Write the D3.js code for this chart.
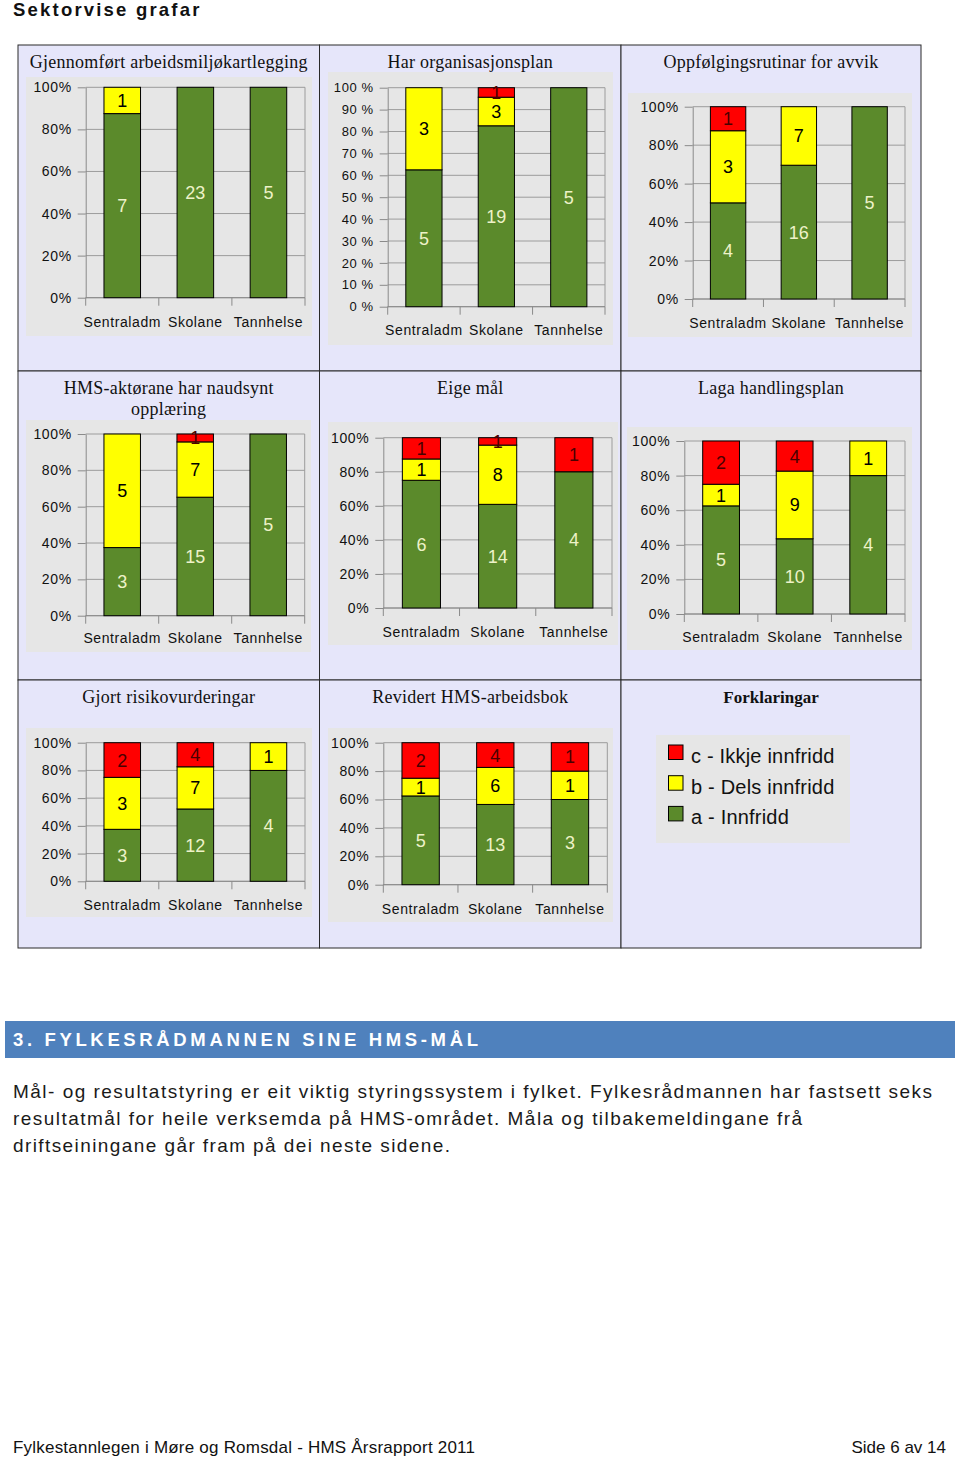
<!DOCTYPE html>
<html><head><meta charset="utf-8">
<script src="https://cdn.jsdelivr.net/npm/d3@7"></script>
<style>body{margin:0;background:#fff}svg{display:block}</style>
</head><body>
<svg id="c" width="960" height="1457"></svg>
<script>
// ---------- data ----------
const categories = ["Sentraladm", "Skolane", "Tannhelse"];
const chartTitles = [
  ["Gjennomført arbeidsmiljøkartlegging"],
  ["Har organisasjonsplan"],
  ["Oppfølgingsrutinar for avvik"],
  ["HMS-aktørane har naudsynt", "opplæring"],
  ["Eige mål"],
  ["Laga handlingsplan"],
  ["Gjort risikovurderingar"],
  ["Revidert HMS-arbeidsbok"]
];
// a - Innfridd
const innfridd      = [[7,23,5],[5,19,5],[4,16,5],[3,15,5],[6,14,4],[5,10,4],[3,12,4],[5,13,3]];
// b - Dels innfridd
const delsInnfridd  = [[1,0,0],[3,3,0],[3,7,0],[5,7,0],[1,8,0],[1,9,1],[3,7,1],[1,6,1]];
// c - Ikkje innfridd
const ikkjeInnfridd = [[0,0,0],[0,1,0],[1,0,0],[0,1,0],[1,1,1],[2,4,0],[2,4,0],[2,4,1]];
const ticks20 = [0, 20, 40, 60, 80, 100];
const ticks10 = [0, 10, 20, 30, 40, 50, 60, 70, 80, 90, 100];
const tickSets = [ticks20, ticks10, ticks20, ticks20, ticks20, ticks20, ticks20, ticks20];
const tickSuffix = ["%", " %", "%", "%", "%", "%", "%", "%"];
const legendLabels = ["c - Ikkje innfridd", "b - Dels innfridd", "a - Innfridd"];
const legendTitle = "Forklaringar";

// ---------- styling / layout ----------
const keys = ["a", "b", "c"];
const fillCol = {a: "#5b8a2b", b: "#ffff00", c: "#ff0000"};
const textCol = {a: "#eef2c8", b: "#000000", c: "#4a0000"};
const panelBg = "#e6e6fa", plotBg = "#e6e6e6", gridCol = "#9c9c9c";
const colX = [18, 319.5, 621, 921];
const rowY = [45, 371, 680, 948];
const layout = [
  {ax: 85.7,  rx: 305,   top: 87.3,  bot: 297.7, tY: 62,  cY: 322,   grey: [26, 77, 286, 259]},
  {ax: 387.7, rx: 605,   top: 87.7,  bot: 306.7, tY: 62,  cY: 329.5, grey: [328, 72, 285, 273]},
  {ax: 692.7, rx: 905,   top: 106.7, bot: 299,   tY: 62,  cY: 323,   grey: [628, 93, 284, 244]},
  {ax: 85.7,  rx: 304.7, top: 434,   bot: 615.7, tY: 388, cY: 638,   grey: [26, 420, 285, 232]},
  {ax: 383.3, rx: 612,   top: 437.7, bot: 608,   tY: 388, cY: 631.5, grey: [328, 422, 290, 223]},
  {ax: 684.3, rx: 905,   top: 441,   bot: 614,   tY: 388, cY: 636.5, grey: [627, 427, 285, 223]},
  {ax: 85.7,  rx: 305,   top: 742.7, bot: 881.3, tY: 697, cY: 904.5, grey: [26, 728, 286, 189]},
  {ax: 383.3, rx: 607.3, top: 742.7, bot: 884.7, tY: 697, cY: 908.5, grey: [328, 728, 285, 194]}
];

const svg = d3.select("#c");

// page title
svg.append("text").attr("x", 13).attr("y", 16)
  .attr("font-family", "Liberation Sans, Arial, sans-serif").attr("font-weight", "bold")
  .attr("font-size", 18.5).attr("letter-spacing", 2.2).attr("fill", "#111")
  .text("Sektorvise grafar");

// panels background + borders
for (let r = 0; r < 3; r++) for (let c = 0; c < 3; c++) {
  svg.append("rect").attr("x", colX[c]).attr("y", rowY[r])
    .attr("width", colX[c + 1] - colX[c]).attr("height", rowY[r + 1] - rowY[r])
    .attr("fill", panelBg).attr("stroke", "#2a2a2a").attr("stroke-width", 1);
}

const stack = d3.stack().keys(keys).offset(d3.stackOffsetExpand);

chartTitles.forEach((title, i) => {
  const L = layout[i];
  const col = i % 3;
  const cx = (colX[col] + colX[col + 1]) / 2;
  const g = svg.append("g");

  // title
  title.forEach((t, k) => {
    g.append("text").attr("x", cx).attr("y", L.tY + 6 + k * 21)
      .attr("text-anchor", "middle")
      .attr("font-family", "Liberation Serif, Times New Roman, serif")
      .attr("font-size", 18).attr("letter-spacing", 0.25).attr("fill", "#111").text(t);
  });

  // plot bg
  g.append("rect").attr("x", L.grey[0]).attr("y", L.grey[1])
    .attr("width", L.grey[2]).attr("height", L.grey[3]).attr("fill", plotBg);

  const rows = categories.map((cat, j) => ({
    cat, a: innfridd[i][j], b: delsInnfridd[i][j], c: ikkjeInnfridd[i][j]
  }));
  const series = stack(rows);

  const x = d3.scaleBand().domain(categories).range([L.ax, L.rx])
    .paddingInner(0.5).paddingOuter(0.25);
  const y = d3.scaleLinear().domain([0, 1]).range([L.bot, L.top]);
  const ticks = tickSets[i];

  // gridlines
  g.selectAll("line.grid").data(ticks).join("line")
    .attr("x1", L.ax).attr("x2", L.rx)
    .attr("y1", d => y(d / 100)).attr("y2", d => y(d / 100))
    .attr("stroke", gridCol).attr("stroke-width", 1);
  // right border of plot
  g.append("line").attr("x1", L.rx).attr("x2", L.rx).attr("y1", L.top).attr("y2", L.bot)
    .attr("stroke", gridCol);

  // y axis
  const yAxis = d3.axisLeft(y).tickValues(ticks.map(t => t / 100))
    .tickSize(8).tickSizeOuter(0).tickPadding(6)
    .tickFormat(d => Math.round(d * 100) + tickSuffix[i]);
  const ya = g.append("g").attr("transform", `translate(${L.ax},0)`).call(yAxis);
  ya.select(".domain").attr("stroke", "#8a8a8a");
  ya.selectAll(".tick line").attr("stroke", "#8a8a8a");
  ya.selectAll(".tick text")
    .attr("font-family", "Liberation Sans, Arial, sans-serif")
    .attr("font-size", i === 1 ? 13 : 14).attr("letter-spacing", 0.6).attr("fill", "#111");

  // x axis line + boundary ticks
  g.append("line").attr("x1", L.ax).attr("x2", L.rx).attr("y1", L.bot).attr("y2", L.bot)
    .attr("stroke", "#8a8a8a");
  const half = (x.step() - x.bandwidth()) / 2;
  const bounds = categories.map(c => x(c) - half).concat([L.rx]);
  g.selectAll("line.xt").data(bounds).join("line")
    .attr("x1", d => d).attr("x2", d => d).attr("y1", L.bot).attr("y2", L.bot + 8)
    .attr("stroke", "#8a8a8a");
  g.selectAll("text.cat").data(categories).join("text")
    .attr("x", d => x(d) + x.bandwidth() / 2).attr("y", L.cY + 5)
    .attr("text-anchor", "middle")
    .attr("font-family", "Liberation Sans, Arial, sans-serif")
    .attr("font-size", 14).attr("letter-spacing", 0.6).attr("fill", "#111")
    .text(d => d);

  // bars
  series.forEach(s => {
    const segs = s.filter(d => d.data[s.key] > 0);
    g.selectAll(null).data(segs).join("rect")
      .attr("x", d => x(d.data.cat)).attr("width", x.bandwidth())
      .attr("y", d => y(d[1])).attr("height", d => y(d[0]) - y(d[1]))
      .attr("fill", fillCol[s.key]).attr("stroke", "#000").attr("stroke-width", 1);
  });
  series.forEach(s => {
    const segs = s.filter(d => d.data[s.key] > 0);
    g.selectAll(null).data(segs).join("text")
      .attr("x", d => x(d.data.cat) + x.bandwidth() / 2)
      .attr("y", d => (y(d[0]) + y(d[1])) / 2).attr("dy", "0.36em")
      .attr("text-anchor", "middle")
      .attr("font-family", "Liberation Sans, Arial, sans-serif")
      .attr("font-size", 18).attr("fill", textCol[s.key])
      .text(d => d.data[s.key]);
  });
});

// legend panel
svg.append("text").attr("x", 771).attr("y", 703).attr("text-anchor", "middle")
  .attr("font-family", "Liberation Serif, Times New Roman, serif")
  .attr("font-weight", "bold").attr("font-size", 17).attr("fill", "#111").text(legendTitle);
svg.append("rect").attr("x", 656).attr("y", 735).attr("width", 194).attr("height", 108)
  .attr("fill", plotBg);
const legKeys = ["c", "b", "a"];
legendLabels.forEach((t, k) => {
  const yy = 745 + k * 30.7;
  svg.append("rect").attr("x", 668.5).attr("y", yy).attr("width", 14.5).attr("height", 14.5)
    .attr("fill", fillCol[legKeys[k]]).attr("stroke", "#000");
  svg.append("text").attr("x", 691).attr("y", yy + 18)
    .attr("font-family", "Liberation Sans, Arial, sans-serif")
    .attr("font-size", 20).attr("letter-spacing", 0.2).attr("fill", "#111").text(t);
});

// section header
svg.append("rect").attr("x", 5).attr("y", 1021).attr("width", 950).attr("height", 37)
  .attr("fill", "#4f81bd");
svg.append("text").attr("x", 13).attr("y", 1045.5)
  .attr("font-family", "Liberation Sans, Arial, sans-serif").attr("font-weight", "bold")
  .attr("font-size", 18.5).attr("fill", "#fff")
  .attr("textLength", 465).attr("lengthAdjust", "spacing")
  .text("3. FYLKESRÅDMANNEN SINE HMS-MÅL");

// paragraph
const para = [
  ["Mål- og resultatstyring er eit viktig styringssystem i fylket. Fylkesrådmannen har fastsett seks", 919],
  ["resultatmål for heile verksemda på HMS-området. Måla og tilbakemeldingane frå", 789],
  ["driftseiningane går fram på dei neste sidene.", 437]
];
para.forEach((p, k) => {
  svg.append("text").attr("x", 13).attr("y", 1098 + k * 27)
    .attr("font-family", "Liberation Sans, Arial, sans-serif")
    .attr("font-size", 19).attr("fill", "#1a1a1a")
    .attr("textLength", p[1]).attr("lengthAdjust", "spacing").text(p[0]);
});

// footer
svg.append("text").attr("x", 13).attr("y", 1453)
  .attr("font-family", "Liberation Sans, Arial, sans-serif").attr("font-size", 17)
  .attr("fill", "#111").attr("textLength", 462).attr("lengthAdjust", "spacing")
  .text("Fylkestannlegen i Møre og Romsdal - HMS Årsrapport 2011");
svg.append("text").attr("x", 946).attr("y", 1453).attr("text-anchor", "end")
  .attr("font-family", "Liberation Sans, Arial, sans-serif").attr("font-size", 17)
  .attr("fill", "#111").text("Side 6 av 14");
</script>
</body></html>
